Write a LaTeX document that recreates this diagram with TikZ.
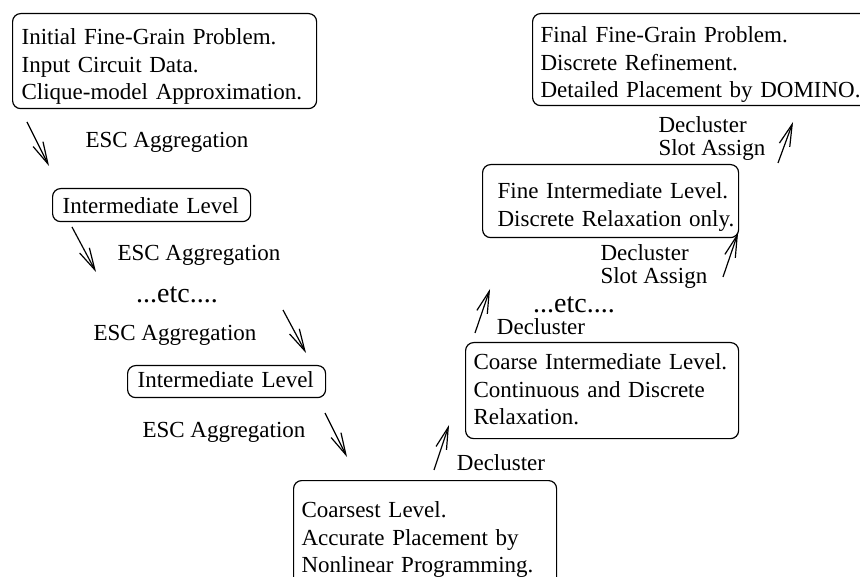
\documentclass[tikz,border=0pt]{standalone}
\usepackage{fontspec}
\setmainfont{Liberation Serif}
\usetikzlibrary{arrows.meta}
\begin{document}
\begin{tikzpicture}[
    x=1pt, y=-1pt,
    font=\fontsize{23}{27.5}\selectfont,
    level/.style={draw, line width=1.2pt, rounded corners=8pt, anchor=north west,
        align=left, inner ysep=0pt},
    flow/.style={line width=1.2pt, -{Straight Barb[length=22pt, width=11pt]}},
    etcfont/.style={font=\fontsize{28}{30}\selectfont},
    twoline/.style={align=left, font=\fontsize{23}{23}\selectfont}
]
    \useasboundingbox (0,0) rectangle (860,577);

    % Levels going down
    \node[level, inner xsep=9pt, text width=286pt, text height=31pt, text depth=64pt] (init) at (12,13)
        {Initial Fine-Grain Problem.\\Input Circuit Data.\\Clique-model Approximation.};
    \node[level, inner xsep=10pt, text width=178pt, text height=25pt, text depth=8pt] (midA) at (52,188)
        {Intermediate Level};
    \node[level, inner xsep=10pt, text width=178pt, text height=22pt, text depth=10pt] (midB) at (127,365)
        {Intermediate Level};
    \node[level, inner xsep=8pt, text width=247pt, text height=37pt, text depth=100pt] (coarsest) at (293,480)
        {Coarsest Level.\\Accurate Placement by\\Nonlinear Programming.};

    % Levels going up
    \node[level, inner xsep=8pt, text width=257pt, text height=27pt, text depth=69pt] (coarse) at (465,342)
        {Coarse Intermediate Level.\\Continuous and Discrete\\Relaxation.};
    \node[level, inner xsep=15pt, text width=226pt, text height=34pt, text depth=39pt] (fine) at (482,164)
        {\mbox{Fine Intermediate Level.}\\\mbox{Discrete Relaxation only.}};
    \node[level, inner xsep=8pt, text width=320pt, text height=29pt, text depth=63pt] (final) at (532,13)
        {Final Fine-Grain Problem.\\Discrete Refinement.\\Detailed Placement by DOMINO.};

    % Arrow ends
    \coordinate (d1s) at (27,122);  \coordinate (d1e) at (49,166);
    \coordinate (d2s) at (72,227);  \coordinate (d2e) at (96,272);
    \coordinate (d3s) at (283,310); \coordinate (d3e) at (306,353);
    \coordinate (d4s) at (325,413); \coordinate (d4e) at (347,457);
    \coordinate (u1s) at (434,470); \coordinate (u1e) at (449,425);
    \coordinate (u2s) at (475,333); \coordinate (u2e) at (490,289);
    \coordinate (u3s) at (723,277); \coordinate (u3e) at (738,233);
    \coordinate (u4s) at (778,163); \coordinate (u4e) at (793,122);

    % Aggregation
    \draw[flow] (d1s) -- (d1e);
    \draw[flow] (d2s) -- (d2e);
    \draw[flow] (d3s) -- (d3e);
    \draw[flow] (d4s) -- (d4e);
    \node (esc1) at (167,142) {ESC Aggregation};
    \node (esc2) at (199,255) {ESC Aggregation};
    \node[etcfont] (etcdown) at (177,295) {...etc....};
    \node (esc3) at (175,335) {ESC Aggregation};
    \node (esc4) at (224,432) {ESC Aggregation};

    % Declustering
    \draw[flow] (u1s) -- (u1e);
    \draw[flow] (u2s) -- (u2e);
    \draw[flow] (u3s) -- (u3e);
    \draw[flow] (u4s) -- (u4e);
    \node (decl1) at (501,463) {Decluster};
    \node (decl2) at (541,327) {Decluster};
    \node[etcfont] (etcup) at (574,305) {...etc....};
    \node[twoline, anchor=west] (slot1) at (597,266.5) {Decluster\\Slot Assign};
    \node[twoline, anchor=west] (slot2) at (655,138.5) {Decluster\\Slot Assign};
\end{tikzpicture}
\end{document}
